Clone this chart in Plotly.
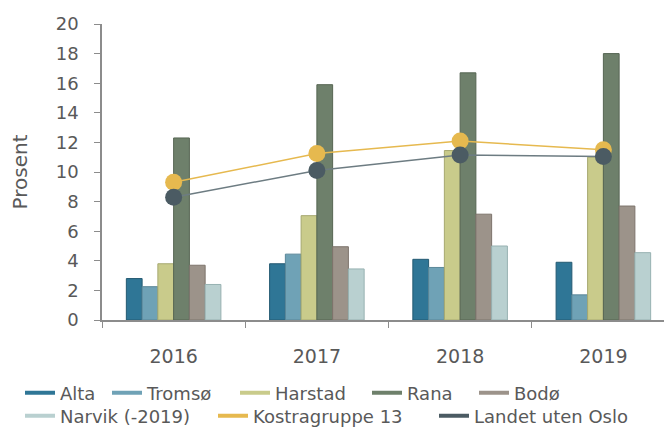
import plotly.graph_objects as go

years = ["2016", "2017", "2018", "2019"]

alta = [2.8, 3.8, 4.1, 3.9]
tromso = [2.25, 4.45, 3.55, 1.7]
harstad = [3.8, 7.05, 11.45, 11.0]
rana = [12.3, 15.9, 16.7, 18.0]
bodo = [3.7, 4.95, 7.15, 7.7]
narvik = [2.4, 3.45, 5.0, 4.55]
kostra = [9.3, 11.25, 12.1, 11.5]
landet = [8.3, 10.1, 11.15, 11.05]

bar_series = [
    ("Alta", alta, "#2f7696", "#245a72"),
    ("Tromsø", tromso, "#6fa2b6", "#5a8798"),
    ("Harstad", harstad, "#c9cb8b", "#a6a870"),
    ("Rana", rana, "#6e806b", "#566553"),
    ("Bodø", bodo, "#9c938a", "#7d746c"),
    ("Narvik (-2019)", narvik, "#b9d0d0", "#97b1b1"),
]
line_series = [
    ("Kostragruppe 13", kostra, "#e6b94f", "#e6b94f"),
    ("Landet uten Oslo", landet, "#4b5b63", "#6d7c82"),
]

# where each legend entry sits (container pixels: left x, row centre y)
legend_spots = [(12, 385), (99, 385), (227, 385), (359, 385), (466, 385),
                (12, 408), (205, 408), (426, 408)]

text_col = "#595959"
axis_col = "#8c8c8c"
font = "DejaVu Sans, Verdana, sans-serif"

fig = go.Figure()

for name, vals, col, edge in bar_series:
    fig.add_trace(go.Bar(
        x=years, y=vals, name=name, showlegend=False,
        marker=dict(color=col, line=dict(color=edge, width=1)),
    ))

for name, vals, col, lcol in line_series:
    fig.add_trace(go.Scatter(
        x=years, y=vals, name=name, mode="lines+markers", showlegend=False,
        line=dict(color=lcol, width=1.5),
        marker=dict(color=col, size=17),
    ))

# legend entries drawn as short thick lines, each in its own legend box
legends = {}
for i, (name, vals, col, edge) in enumerate(bar_series + line_series):
    key = "legend" if i == 0 else f"legend{i + 1}"
    fig.add_trace(go.Scatter(
        x=[None], y=[None], name=name, mode="lines",
        line=dict(color=col, width=4), legend=key,
    ))
    px, py = legend_spots[i]
    legends[key] = dict(
        x=px / 672, y=1 - py / 428,
        orientation="h", xref="container", yref="container",
        xanchor="left", yanchor="middle",
        font=dict(size=18, color=text_col, family=font),
        itemwidth=30, bgcolor="rgba(0,0,0,0)",
    )

# page body adds an 8px offset, so positions are shifted up/left by 8
fig.update_layout(
    width=672, height=428,
    margin=dict(l=94, r=5, t=16, b=116, autoexpand=False),
    paper_bgcolor="white", plot_bgcolor="white",
    font=dict(family=font, size=19, color=text_col),
    barmode="group", bargap=0.34, bargroupgap=0,
    xaxis=dict(
        type="category", range=[-0.5, 3.5], automargin=False,
        showline=True, linecolor=axis_col, linewidth=1.5,
        ticks="outside", tickson="boundaries", ticklen=6, tickcolor=axis_col,
        ticklabelstandoff=18, showgrid=False,
        tickfont=dict(size=19, color=text_col),
    ),
    yaxis=dict(
        range=[0, 20], dtick=2, automargin=False,
        showline=True, linecolor=axis_col, linewidth=1.5,
        ticks="outside", ticklen=6, tickcolor=axis_col,
        showgrid=False, zeroline=False, ticklabelstandoff=12,
        tickfont=dict(size=18, color=text_col),
        title=dict(text="Prosent", font=dict(size=20, color=text_col), standoff=26),
    ),
    **legends,
)

fig.write_html("out.html")
